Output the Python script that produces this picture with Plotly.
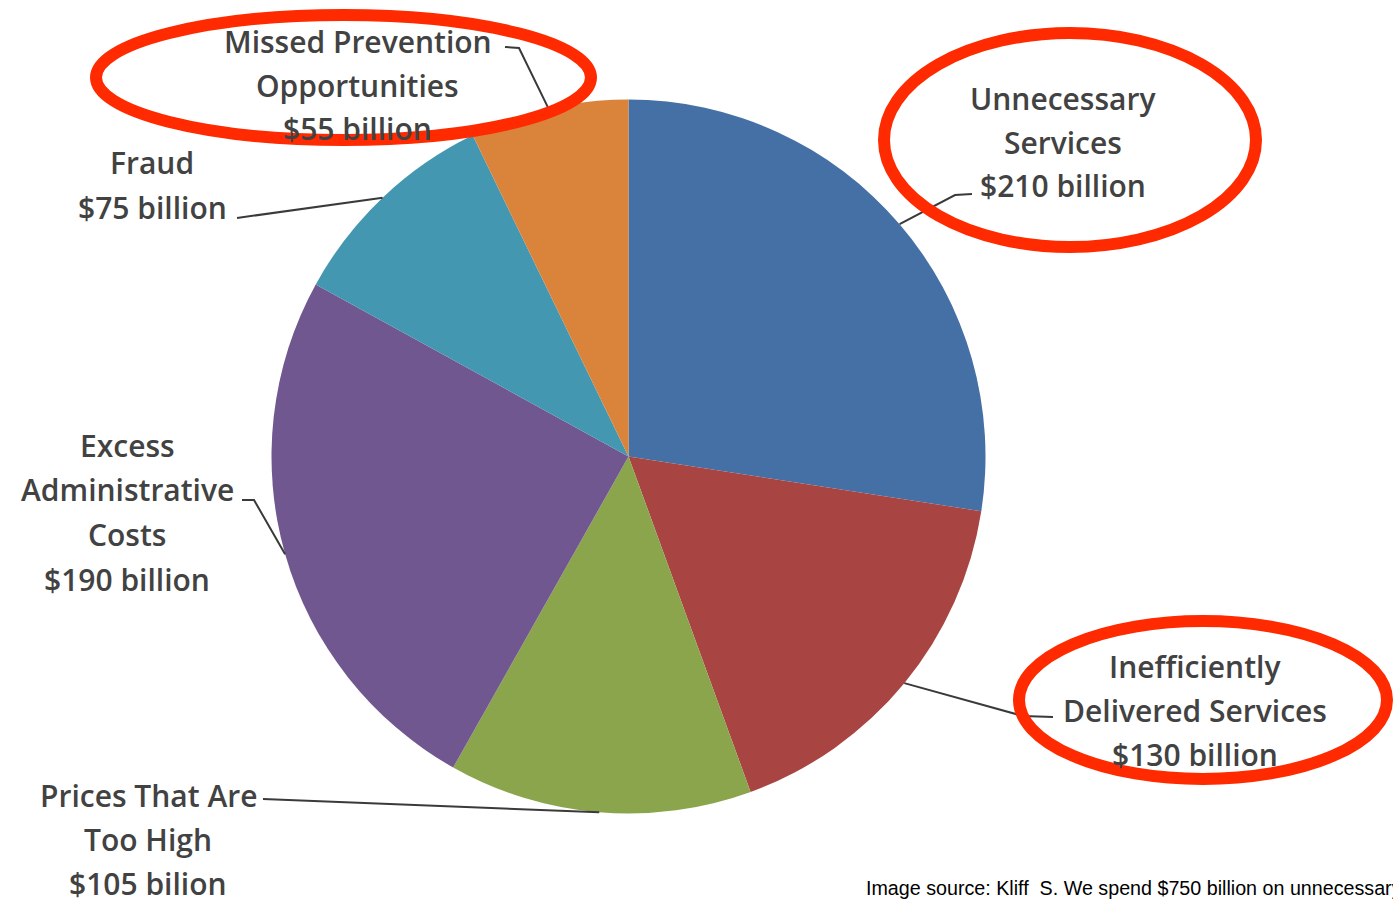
import math
import plotly.graph_objects as go

# Wasted health-care spending by category (billions of dollars)
categories = [
    "Unnecessary Services",
    "Inefficiently Delivered Services",
    "Prices That Are Too High",
    "Excess Administrative Costs",
    "Fraud",
    "Missed Prevention Opportunities",
]
values = [210, 130, 105, 190, 75, 55]
colors = ["#4470A6", "#A84542", "#8AA54C", "#715790", "#4397B0", "#DA843B"]

label_lines = [
    ["Unnecessary", "Services", "$210 billion"],
    ["Inefficiently", "Delivered Services", "$130 billion"],
    ["Prices That Are", "Too High", "$105 bilion"],
    ["Excess", "Administrative", "Costs", "$190 billion"],
    ["Fraud", "$75 billion"],
    ["Missed Prevention", "Opportunities", "$55 billion"],
]

source_note = "Image source: Kliff  S. We spend $750 billion on unnecessary"

W, H = 1393, 899
CX, CY, R = 628.5, 456.5, 357


def px(x):
    return x / W


def py(y):
    return 1 - y / H


# label block layout: (center x, first-line y, line step) in pixels
label_pos = [
    (1063, 98, 44),
    (1195, 666, 44),
    (148, 795, 44),
    (127, 445, 44.7),
    (152, 162, 45),
    (358, 41, 44),
]
# leader-line bends, from label side toward the slice
leader_bends = [
    [(972, 194), (955, 195)],
    [(1053, 717), (1023, 716)],
    [(263, 799)],
    [(242, 500), (254, 500)],
    [(237, 218)],
    [(505, 47), (519, 48)],
]

fig = go.Figure(
    go.Pie(
        labels=categories,
        values=values,
        sort=False,
        direction="clockwise",
        rotation=0,
        marker=dict(colors=colors, line=dict(width=0)),
        textinfo="none",
        hoverinfo="label+value",
        showlegend=False,
        domain=dict(x=[px(CX - R), px(CX + R)], y=[py(CY + R), py(CY - R)]),
    )
)

shapes = []
annotations = []
total = sum(values)
cum = 0
for i, v in enumerate(values):
    mid = (cum + v / 2) / total * 2 * math.pi
    cum += v
    ex = CX + R * math.sin(mid)
    ey = CY - R * math.cos(mid)
    pts = leader_bends[i] + [(ex, ey)]
    path = "M {} {}".format(px(pts[0][0]), py(pts[0][1]))
    for (x, y) in pts[1:]:
        path += " L {} {}".format(px(x), py(y))
    shapes.append(dict(type="path", xref="paper", yref="paper", path=path,
                       line=dict(color="#3a3a3a", width=2)))

    cx, y0, step = label_pos[i]
    for j, line in enumerate(label_lines[i]):
        annotations.append(dict(
            x=px(cx), y=py(y0 + j * step), xref="paper", yref="paper",
            text=line, showarrow=False, xanchor="center", yanchor="middle",
            font=dict(family="Open Sans", size=30, color="#424242", weight=600),
        ))

annotations.append(dict(
    x=px(864), y=py(888), xref="paper", yref="paper", text=source_note,
    showarrow=False, xanchor="left", yanchor="middle",
    font=dict(family="Liberation Sans, Arial", size=19.7, color="#000000"),
))

# red highlight ellipses
for (x0, y0, x1, y1) in [(96, 15, 591, 140), (884, 33, 1256, 247), (1019, 621, 1387, 779)]:
    shapes.append(dict(type="circle", xref="paper", yref="paper", layer="above",
                       x0=px(x0), x1=px(x1), y0=py(y1), y1=py(y0),
                       line=dict(color="#FF2A00", width=12)))

fig.update_layout(
    width=W, height=H,
    margin=dict(l=0, r=0, t=0, b=0),
    paper_bgcolor="white", plot_bgcolor="white",
    shapes=shapes, annotations=annotations,
)

fig.write_html("out.html")
